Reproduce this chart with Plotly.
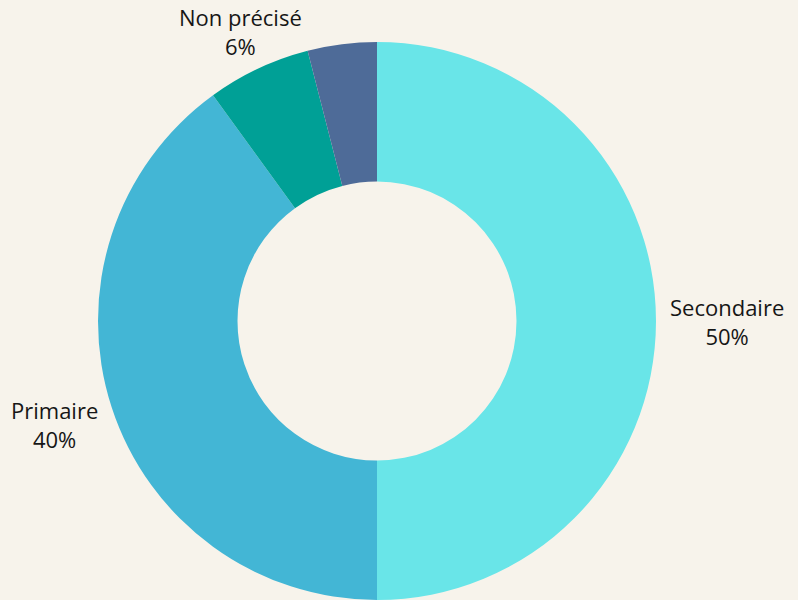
import math
import plotly.graph_objects as go

labels = ["Secondaire", "Primaire", "Non précisé", "Autre"]
values = [50, 40, 6, 4]
show_label = [True, True, True, False]
colors = ["#69e5e8", "#43b6d5", "#00a096", "#4e6b98"]

W, H = 798, 600
M = dict(l=0, r=44, t=42, b=0)
FONT_SIZE = 22

fig = go.Figure(go.Pie(
    labels=labels,
    values=values,
    hole=0.5,
    sort=False,
    direction="clockwise",
    rotation=0,
    marker=dict(colors=colors, line=dict(width=0)),
    textinfo="none",
    showlegend=False,
    automargin=False,
))

# geometry of the pie in pixels (plotly centres it in the plot area)
pw = W - M["l"] - M["r"]
ph = H - M["t"] - M["b"]
cx = M["l"] + pw / 2
cy = M["t"] + ph / 2
R = min(pw, ph) / 2
gap = 12
half_h = FONT_SIZE * 1.3

total = sum(values)
annotations = []
cum = 0
for lab, v, show in zip(labels, values, show_label):
    mid = (cum + v / 2) / total * 2 * math.pi  # clockwise from 12 o'clock
    cum += v
    if not show:
        continue
    s, c = math.sin(mid), math.cos(mid)
    px = cx + (R + gap) * s
    py = cy - (R + gap) * c
    if s > 0.5:
        xanchor, xshift = "left", 0
    elif s < -0.5:
        xanchor, xshift = "right", 0
    else:
        xanchor, xshift = "center", s * half_h
    annotations.append(dict(
        x=(px - M["l"]) / pw,
        y=1 - (py - M["t"]) / ph,
        xref="paper", yref="paper",
        text=f"{lab}<br>{round(v / total * 100)}%",
        showarrow=False,
        xanchor=xanchor,
        xshift=xshift,
        yanchor="middle",
        yshift=c * half_h * (1.0 if c > 0 else 1.5),
        align="center",
        font=dict(family="Open Sans", size=FONT_SIZE, color="#161616"),
    ))

fig.update_layout(
    width=W,
    height=H,
    paper_bgcolor="#f7f3eb",
    plot_bgcolor="#f7f3eb",
    margin=M,
    font=dict(family="Open Sans"),
    annotations=annotations,
)

fig.write_html(
    "out.html",
    config={"displayModeBar": False},
    post_script="document.body.style.margin='0';document.body.style.background='#f7f3eb';",
)
